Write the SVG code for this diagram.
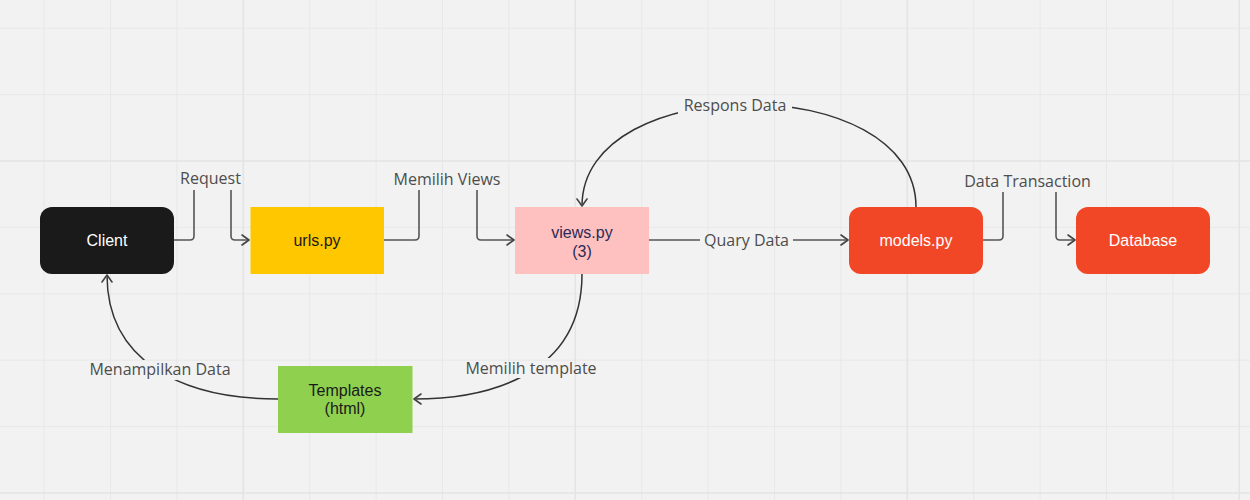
<svg xmlns="http://www.w3.org/2000/svg" width="1250" height="500" viewBox="0 0 1250 500">
  <defs>
    <style>
      .bg { fill: #f2f2f2; }
      .grid-minor { stroke: #e8e8e8; stroke-width: 1; fill: none; }
      .grid-major { stroke: #e4e4e4; stroke-width: 1.6; fill: none; }
      .node-text { font-family: "Liberation Sans", Arial, sans-serif; font-size: 16px; text-anchor: middle; }
      .light { fill: #ffffff; }
      .dark { fill: #1a1a1a; }
      .navy { fill: #2b2a55; }
      .conn { fill: none; stroke: #555555; stroke-width: 1.6; stroke-linejoin: round; }
      .curve { fill: none; stroke: #333333; stroke-width: 1.5; }
      .label { font-family: "Open Sans", "Liberation Sans", sans-serif; font-size: 16px; fill: #4d4d4d; text-anchor: middle; }
    </style>
    <marker id="arrow" viewBox="0 0 10 12" refX="9" refY="6" markerWidth="10" markerHeight="12" markerUnits="userSpaceOnUse" orient="auto">
      <path d="M2,1 L9,6 L2,11" fill="none" stroke="#444444" stroke-width="1.6" stroke-linecap="round" stroke-linejoin="round"/>
    </marker>
    <mask id="labelMask" maskUnits="userSpaceOnUse" x="0" y="0" width="1250" height="500">
      <rect x="0" y="0" width="1250" height="500" fill="#ffffff"/>
      <rect x="678" y="95" width="114" height="21" fill="#000000"/>
      <rect x="460" y="358" width="142" height="20" fill="#000000"/>
      <rect x="84" y="360" width="152" height="20" fill="#000000"/>
    </mask>
  </defs>

  <rect class="bg" x="0" y="0" width="1250" height="500"/>

  <g id="grid">
    <path class="grid-minor" d="M44.1,0V500 M110.5,0V500 M176.9,0V500 M309.7,0V500 M376.1,0V500 M442.5,0V500 M508.9,0V500 M641.7,0V500 M708.1,0V500 M774.5,0V500 M840.9,0V500 M973.7,0V500 M1040.1,0V500 M1106.5,0V500 M1172.9,0V500 M0,28.2H1250 M0,94.6H1250 M0,227.4H1250 M0,293.8H1250 M0,360.2H1250 M0,426.6H1250"/>
    <path class="grid-major" d="M243.3,0V500 M575.3,0V500 M907.3,0V500 M1239.3,0V500 M0,161H1250 M0,493H1250"/>
  </g>

  <g id="connectors">
    <!-- Client -> urls.py (Request) -->
    <path class="conn" d="M174,240 H190 Q194,240 194,236 V190"/>
    <path class="conn" d="M231,190 V236 Q231,240 235,240 H249" marker-end="url(#arrow)"/>
    <!-- urls.py -> views.py (Memilih Views) -->
    <path class="conn" d="M384,240 H415 Q419,240 419,236 V190"/>
    <path class="conn" d="M477,190 V236 Q477,240 481,240 H514" marker-end="url(#arrow)"/>
    <!-- views.py -> models.py (Quary Data) -->
    <path class="conn" d="M649,240 H700"/>
    <path class="conn" d="M793,240 H848" marker-end="url(#arrow)"/>
    <!-- models.py -> Database (Data Transaction) -->
    <path class="conn" d="M983,240 H999 Q1003,240 1003,236 V192"/>
    <path class="conn" d="M1056,192 V236 Q1056,240 1060,240 H1075" marker-end="url(#arrow)"/>
    <g mask="url(#labelMask)">
      <!-- models.py -> views.py (Respons Data) -->
      <path class="curve" d="M916,207 C916,70 582,70 582,206" marker-end="url(#arrow)"/>
      <!-- views.py -> Templates (Memilih template) -->
      <path class="curve" d="M582,274 C582,380 480,399 414,399" marker-end="url(#arrow)"/>
      <!-- Templates -> Client (Menampilkan Data) -->
      <path class="curve" d="M278,399 C180,399 107,360 107,275" marker-end="url(#arrow)"/>
    </g>
    <text class="label" x="210.5" y="184">Request</text>
    <text class="label" x="447" y="185">Memilih Views</text>
    <text class="label" x="746.5" y="245.5">Quary Data</text>
    <text class="label" x="1027.5" y="186.5">Data Transaction</text>
    <text class="label" x="735" y="110.5">Respons Data</text>
    <text class="label" x="531" y="373.5">Memilih template</text>
    <text class="label" x="160" y="375">Menampilkan Data</text>
  </g>

  <g id="client">
    <rect x="40" y="207" width="134" height="67" rx="12" fill="#1a1a1a"/>
    <text class="node-text light" x="107" y="246">Client</text>
  </g>
  <g id="urls">
    <rect x="250.5" y="207" width="133.5" height="67" fill="#ffc700"/>
    <text class="node-text dark" x="317" y="246">urls.py</text>
  </g>
  <g id="views">
    <rect x="515" y="207" width="134" height="67" fill="#ffc0c0"/>
    <text class="node-text navy" x="582" y="237.5">views.py</text>
    <text class="node-text navy" x="582" y="256.5">(3)</text>
  </g>
  <g id="models">
    <rect x="849" y="207" width="134" height="67" rx="12" fill="#f24726"/>
    <text class="node-text light" x="916" y="246">models.py</text>
  </g>
  <g id="database">
    <rect x="1076" y="207" width="134" height="67" rx="12" fill="#f24726"/>
    <text class="node-text light" x="1143" y="246">Database</text>
  </g>
  <g id="templates">
    <rect x="278" y="366" width="134.5" height="67" fill="#8fd14f"/>
    <text class="node-text dark" x="345" y="396">Templates</text>
    <text class="node-text dark" x="345" y="414">(html)</text>
  </g>
</svg>
